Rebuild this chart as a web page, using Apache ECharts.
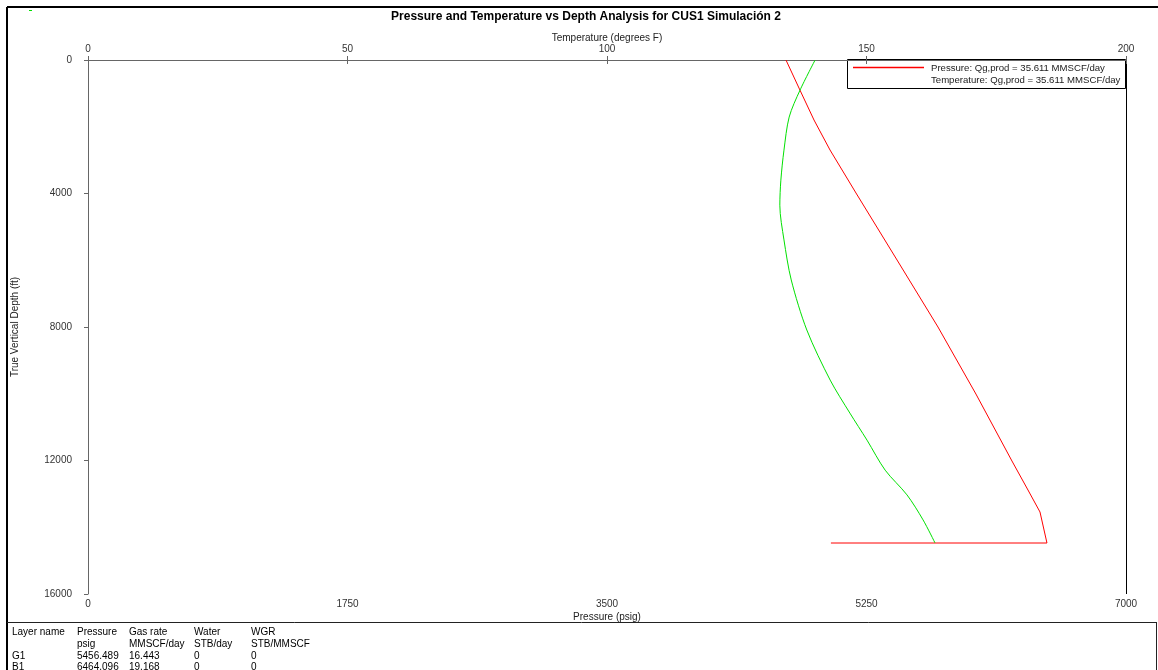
<!DOCTYPE html>
<html>
<head>
<meta charset="utf-8">
<script src="https://cdn.jsdelivr.net/npm/echarts@6/dist/echarts.min.js"></script>
<style>
html,body{margin:0;padding:0;background:#fff;}
#c{width:1158px;height:670px;}
</style>
</head>
<body>
<div id="c"></div>
<script>
// ---- data ----
const titleText = 'Pressure and Temperature vs Depth Analysis for CUS1 Simulación 2';
const pressureTicks = [0, 1750, 3500, 5250, 7000];
const temperatureTicks = [0, 50, 100, 150, 200];
const depthTicks = [0, 4000, 8000, 12000, 16000];

const pressureDepth = [0, 899, 1798, 2697, 3985, 5993, 8000, 10008, 12015, 12884, 13543, 14472, 14472];
const pressureValues = [4707, 4801, 4896, 5004, 5179, 5456, 5732, 5988, 6231, 6339, 6420, 6467, 5010];

const temperatureDepth = [0, 900, 1710, 2700, 3600, 4350, 5390, 6590, 8090, 9590, 10580, 11390, 12290, 13030, 13780, 14470];
const temperatureValues = [140.1, 137.2, 135.1, 134.1, 133.5, 133.3, 134.1, 135.5, 138.5, 143.0, 146.8, 150.1, 153.6, 157.8, 160.9, 163.2];

const legendLabels = ['Pressure: Qg,prod = 35.611 MMSCF/day', 'Temperature: Qg,prod = 35.611 MMSCF/day'];

const tableHeader1 = ['Layer name', 'Pressure', 'Gas rate', 'Water', 'WGR'];
const tableHeader2 = ['', 'psig', 'MMSCF/day', 'STB/day', 'STB/MMSCF'];
const tableRows = [
  ['G1', '5456.489', '16.443', '0', '0'],
  ['B1', '6464.096', '19.168', '0', '0']
];

// ---- chart ----
const FONT = '"Liberation Sans", Arial, sans-serif';
const chart = echarts.init(document.getElementById('c'), null, {renderer: 'canvas'});

const axisCommon = {
  type: 'value',
  axisLine: {show: true, lineStyle: {color: '#666', width: 1}},
  axisTick: {show: true, inside: false, length: 4, lineStyle: {color: '#666'}},
  splitLine: {show: false},
  axisLabel: {color: '#333', fontSize: 10, fontFamily: FONT, formatter: v => String(v)},
  nameTextStyle: {color: '#222', fontSize: 10, fontFamily: FONT},
  nameLocation: 'middle',
  nameMoveOverlap: false
};

const colX = [12, 77, 129, 194, 251];
const rowY = [632, 644, 656, 667];
const tableGraphics = [];
[tableHeader1, tableHeader2].concat(tableRows).forEach((row, ri) => {
  row.forEach((txt, ci) => {
    if (!txt) return;
    tableGraphics.push({
      type: 'text', x: colX[ci], y: rowY[ri],
      style: {text: txt, fill: '#000', font: '10px ' + FONT, textVerticalAlign: 'middle', textAlign: 'left'}
    });
  });
});

chart.setOption({
  backgroundColor: '#fff',
  animation: false,
  grid: {left: 88, right: 32, top: 60, bottom: 76, containLabel: false, outerBoundsMode: 'none'},
  xAxis: [
    Object.assign({}, axisCommon, {
      position: 'bottom', min: pressureTicks[0], max: pressureTicks[pressureTicks.length - 1],
      interval: pressureTicks[1] - pressureTicks[0],
      name: 'Pressure (psig)', nameGap: 18,
      axisLabel: Object.assign({}, axisCommon.axisLabel, {margin: 5})
    }),
    Object.assign({}, axisCommon, {
      position: 'top', min: temperatureTicks[0], max: temperatureTicks[temperatureTicks.length - 1],
      interval: temperatureTicks[1] - temperatureTicks[0],
      name: 'Temperature (degrees F)', nameGap: 17,
      axisLabel: Object.assign({}, axisCommon.axisLabel, {margin: 6})
    })
  ],
  yAxis: [
    Object.assign({}, axisCommon, {
      inverse: true, min: depthTicks[0], max: depthTicks[depthTicks.length - 1],
      interval: depthTicks[1] - depthTicks[0],
      name: 'True Vertical Depth (ft)', nameGap: 68,
      axisLabel: Object.assign({}, axisCommon.axisLabel, {margin: 16})
    })
  ],
  series: [
    {
      name: legendLabels[0], type: 'line', xAxisIndex: 0, yAxisIndex: 0,
      data: pressureValues.map((p, i) => [p, pressureDepth[i]]),
      showSymbol: false, symbol: 'none',
      lineStyle: {color: '#ff0000', width: 1}, itemStyle: {color: '#ff0000'}
    },
    {
      name: legendLabels[1], type: 'line', xAxisIndex: 1, yAxisIndex: 0,
      data: temperatureValues.map((t, i) => [t, temperatureDepth[i]]),
      showSymbol: false, symbol: 'none', smooth: 0.3,
      lineStyle: {color: '#00e000', width: 1}, itemStyle: {color: '#00e000'}
    }
  ],
  graphic: [
    // outer frame
    {type: 'line', shape: {x1: 7, y1: 7, x2: 1158, y2: 7}, style: {stroke: '#000', lineWidth: 2}},
    {type: 'line', shape: {x1: 7, y1: 7, x2: 7, y2: 670}, style: {stroke: '#000', lineWidth: 2}},
    {type: 'line', shape: {x1: 7, y1: 622.5, x2: 1156, y2: 622.5}, style: {stroke: '#222', lineWidth: 1}},
    {type: 'line', shape: {x1: 1156.5, y1: 622, x2: 1156.5, y2: 670}, style: {stroke: '#222', lineWidth: 1}},
    // right plot border
    {type: 'line', shape: {x1: 1126.5, y1: 60, x2: 1126.5, y2: 594}, style: {stroke: '#000', lineWidth: 1}},
    // tiny green mark
    {type: 'rect', shape: {x: 29, y: 10, width: 3, height: 1}, style: {fill: '#00e000'}},
    // title
    {type: 'text', x: 586, y: 17, style: {text: titleText, fill: '#000', font: 'bold 12px ' + FONT, textAlign: 'center', textVerticalAlign: 'middle'}},
    // legend
    {type: 'rect', shape: {x: 847.5, y: 59.5, width: 278, height: 29}, style: {fill: '#fff', stroke: '#000', lineWidth: 1}},
    {type: 'polyline', shape: {points: [[853, 67.5], [924, 67.5]]}, style: {stroke: 'rgb(255,0,0)', lineWidth: 1.3, fill: null}},
    {type: 'text', x: 931, y: 68, style: {text: legendLabels[0], fill: '#222', font: '9.6px ' + FONT, textVerticalAlign: 'middle'}},
    {type: 'text', x: 931, y: 80, style: {text: legendLabels[1], fill: '#222', font: '9.6px ' + FONT, textVerticalAlign: 'middle'}}
  ].concat(tableGraphics)
});
</script>
</body>
</html>
